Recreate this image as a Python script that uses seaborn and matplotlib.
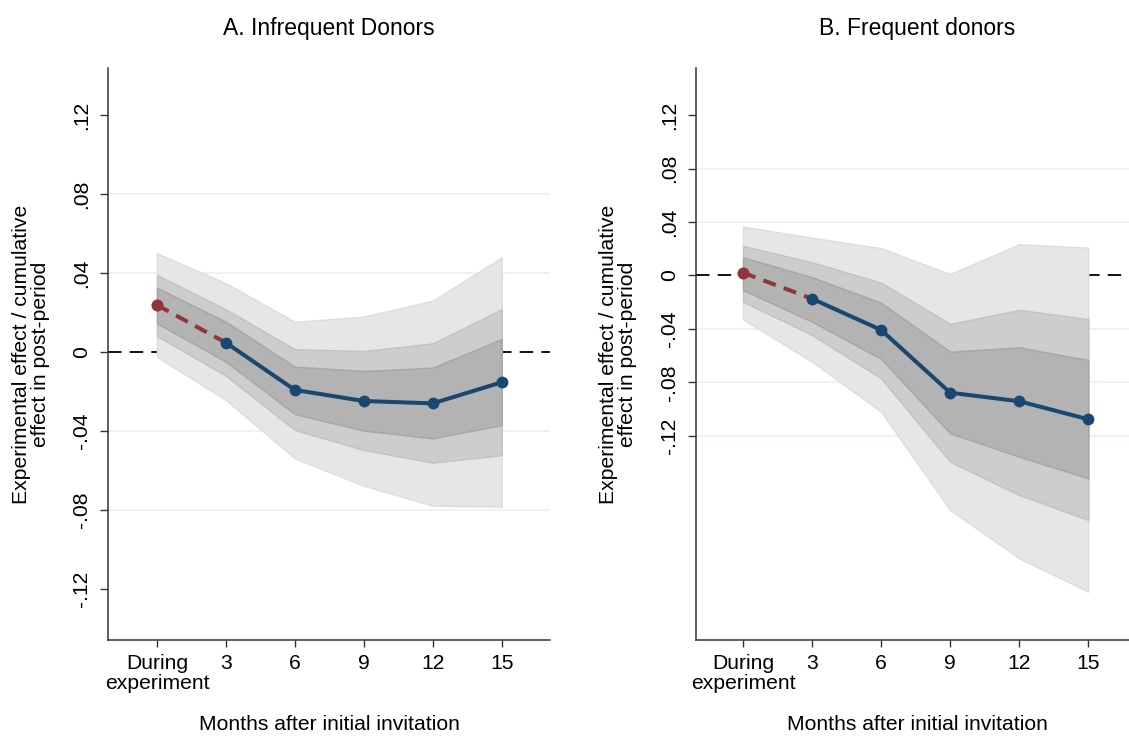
import numpy as np
import pandas as pd
import matplotlib
matplotlib.use("Agg")
import matplotlib.pyplot as plt
import seaborn as sns

# ---------------- data ----------------
x_labels = ["During\nexperiment", "3", "6", "9", "12", "15"]
x_pos = [0, 1, 2, 3, 4, 5]

# Panel A: Infrequent donors
a_est = [0.0238, 0.0047, -0.0192, -0.0248, -0.0260, -0.0153]
a_outer_hi = [0.0500, 0.0348, 0.0153, 0.0179, 0.0260, 0.0479]
a_outer_lo = [-0.0024, -0.0243, -0.0538, -0.0677, -0.0778, -0.0783]
a_mid_hi = [0.0390, 0.0216, 0.0014, 0.0005, 0.0044, 0.0216]
a_mid_lo = [0.0081, -0.0120, -0.0395, -0.0496, -0.0560, -0.0522]
a_in_hi = [0.0326, 0.0153, -0.0074, -0.0096, -0.0079, 0.0066]
a_in_lo = [0.0145, -0.0049, -0.0314, -0.0398, -0.0437, -0.0370]

# Panel B: Frequent donors
b_est = [0.0021, -0.0174, -0.0408, -0.0878, -0.0942, -0.1077]
b_outer_hi = [0.0366, 0.0283, 0.0204, 0.0011, 0.0234, 0.0208]
b_outer_lo = [-0.0328, -0.0646, -0.1020, -0.1757, -0.2118, -0.2368]
b_mid_hi = [0.0221, 0.0099, -0.0054, -0.0363, -0.0258, -0.0326]
b_mid_lo = [-0.0196, -0.0446, -0.0770, -0.1395, -0.1644, -0.1831]
b_in_hi = [0.0136, -0.0013, -0.0204, -0.0571, -0.0538, -0.0633]
b_in_lo = [-0.0109, -0.0346, -0.0625, -0.1182, -0.1357, -0.1519]

y_ticks = [-0.12, -0.08, -0.04, 0, 0.04, 0.08, 0.12]
y_tick_labels = ["-.12", "-.08", "-.04", "0", ".04", ".08", ".12"]

# ---------------- style ----------------
sns.set_theme(style="white")
plt.rcParams["font.family"] = ["Liberation Sans", "DejaVu Sans"]
plt.rcParams["text.color"] = "black"
plt.rcParams["xtick.color"] = "black"
plt.rcParams["ytick.color"] = "black"
plt.rcParams["axes.labelcolor"] = "black"

NAVY = "#1a476f"
MAROON = "#90353b"
GRID = "#eaf2f3"
FS = 15.2

fig = plt.figure(figsize=(11.29, 7.37), dpi=100)
W, H = 1129, 737
TOP, BOT = 68, 640


def add_axes(left_px, right_px, top_px=TOP, bottom_px=BOT):
    return fig.add_axes([left_px / W, 1 - bottom_px / H,
                         (right_px - left_px) / W, (bottom_px - top_px) / H])


def draw_panel(ax, est, ohi, olo, mhi, mlo, ihi, ilo, title, xlim, ylim, grid_vals,
               ylabel_x):
    ax.set_xlim(*xlim)
    ax.set_ylim(*ylim)
    for g in grid_vals:
        ax.axhline(g, color=GRID, lw=1.3, zorder=0)
    ax.axhline(0, color="black", lw=1.3, dashes=(7.5, 4.5), zorder=0.5)

    ax.fill_between(x_pos, olo, ohi, facecolor="#e6e6e6", edgecolor="#dddddd", lw=1.0, zorder=1)
    ax.fill_between(x_pos, mlo, mhi, facecolor="#cdcdcd", edgecolor="#c2c2c2", lw=1.0, zorder=2)
    ax.fill_between(x_pos, ilo, ihi, facecolor="#b3b3b3", edgecolor="#a6a6a6", lw=1.0, zorder=3)

    df_red = pd.DataFrame({"x": x_pos[:2], "y": est[:2]})
    df_blue = pd.DataFrame({"x": x_pos[1:], "y": est[1:]})
    sns.lineplot(data=df_red, x="x", y="y", ax=ax, color=MAROON, lw=2.9,
                 zorder=4, legend=False, estimator=None, sort=False)
    ax.lines[-1].set_dashes((3.3, 2.1))
    sns.scatterplot(data=df_red.iloc[:1], x="x", y="y", ax=ax, color=MAROON, s=75,
                    edgecolor=MAROON, linewidth=0, zorder=5, legend=False)
    sns.lineplot(data=df_blue, x="x", y="y", ax=ax, color=NAVY, lw=2.9,
                 marker="o", markersize=8.5, markeredgewidth=0,
                 zorder=6, legend=False, estimator=None, sort=False)

    ax.set_xticks(x_pos)
    ax.set_xticklabels(x_labels, fontsize=FS, linespacing=1.05, va="top")
    ax.set_yticks(y_ticks)
    ax.set_yticklabels(y_tick_labels, fontsize=FS, rotation=90, va="center")
    ax.tick_params(axis="x", length=5, width=1, color="#333333", pad=5, bottom=True)
    ax.tick_params(axis="y", length=6, width=1, color="#333333", pad=6, left=True)
    for side in ["top", "right"]:
        ax.spines[side].set_visible(False)
    for side in ["left", "bottom"]:
        ax.spines[side].set_color("#333333")
        ax.spines[side].set_linewidth(1.1)
    h = BOT - TOP
    ax.text(0.5, (BOT - 28) / h, title, transform=ax.transAxes, ha="center",
            va="center", fontsize=16.5)
    ax.set_xlabel("Months after initial invitation", fontsize=FS, va="center")
    ax.xaxis.set_label_coords(0.5, -(725 - BOT) / h)
    ax.set_ylabel("Experimental effect / cumulative\neffect in post-period",
                  fontsize=FS, linespacing=1.0, va="center", ha="center")
    ax.yaxis.set_label_coords(ylabel_x, 0.5)
    ax.set_facecolor("white")


axA = add_axes(108, 550)
draw_panel(axA, a_est, a_outer_hi, a_outer_lo, a_mid_hi, a_mid_lo, a_in_hi, a_in_lo,
           "A. Infrequent Donors", (-0.71, 5.70), (-0.1458, 0.1438),
           [-0.08, -0.04, 0.04, 0.08], (31 - 108) / 442)

axB = add_axes(696, 1138)
draw_panel(axB, b_est, b_outer_hi, b_outer_lo, b_mid_hi, b_mid_lo, b_in_hi, b_in_lo,
           "B. Frequent donors", (-0.681, 5.72), (-0.2730, 0.1554),
           [-0.12, -0.08, -0.04, 0.04, 0.08], (618 - 696) / 442)

fig.savefig("out.png", dpi=100, facecolor="white")
